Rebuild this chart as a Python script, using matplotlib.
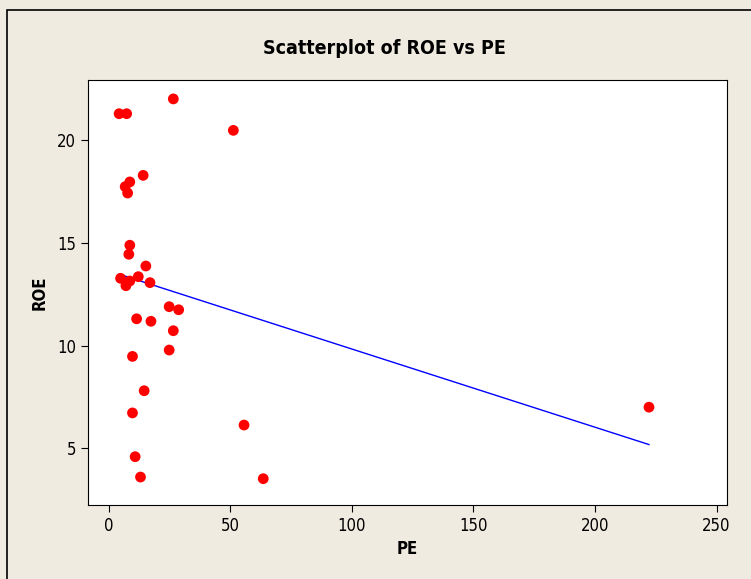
import matplotlib
matplotlib.use("Agg")
import matplotlib.pyplot as plt
import numpy as np
from matplotlib.patches import Rectangle
from matplotlib import font_manager as fm

pe = [26.5, 4.2, 7.3, 51.2, 14.1, 8.6, 6.7, 7.7, 8.6, 8.2, 15.2, 4.8, 12.1, 8.6, 7.0,
      16.9, 24.8, 28.7, 11.4, 17.3, 26.5, 24.8, 9.7, 14.5, 9.7, 55.6, 10.8, 13.0, 63.5, 222.2]
roe = [22.0, 21.28, 21.28, 20.47, 18.28, 17.96, 17.73, 17.42, 14.88, 14.44, 13.87, 13.27, 13.35,
       13.14, 12.91, 13.06, 11.89, 11.74, 11.30, 11.18, 10.72, 9.78, 9.47, 7.80, 6.72, 6.13,
       4.59, 3.60, 3.52, 7.0]
x_ticks = [0, 50, 100, 150, 200, 250]
y_ticks = [5, 10, 15, 20]

names = sorted({f.name for f in fm.fontManager.ttflist})
print(names)
cond = [f.fname for f in fm.fontManager.ttflist if 'Condensed' in f.fname or 'Narrow' in f.fname]
print(cond)

plt.rcParams['font.family'] = ['DejaVu Sans']
plt.rcParams['font.stretch'] = 'condensed'

fig = plt.figure(figsize=(7.51, 5.79), dpi=100)
bg = '#F0EBE1'
fig.patch.set_facecolor(bg)
fig.patches.append(Rectangle((7/751, -0.1), 2, 1.1 - 10/579, transform=fig.transFigure,
                             fill=False, edgecolor='black', linewidth=1.2))

ax = fig.add_axes([88/751, (579-505)/579, 639/751, 425/579])
ax.set_facecolor('white')

x = np.array(pe); y = np.array(roe)
b, a = np.polyfit(x, y, 1)
xs = np.array([x.min(), x.max()])
ax.plot(xs, a + b*xs, color='#0000FF', linewidth=1.0, zorder=2)
ax.scatter(x, y, s=60, color='#FF0000', edgecolors='none', zorder=3)

ax.set_xlim(-8.6, 254.3)
ax.set_ylim(2.24, 22.92)
ax.set_xticks(x_ticks)
ax.set_yticks(y_ticks)
ax.tick_params(direction='out', length=5, labelsize=12, top=False, right=False)
for s in ax.spines.values():
    s.set_linewidth(0.8)
ax.set_xlabel('PE', fontsize=12, fontweight='bold', labelpad=4)
ax.set_ylabel('ROE', fontsize=12, fontweight='bold', labelpad=6)
fig.text(384/751, 1-48/579, 'Scatterplot of ROE vs PE', ha='center', va='center',
         fontsize=14, fontweight='bold')

fig.savefig('out.png', dpi=100, facecolor=bg)
